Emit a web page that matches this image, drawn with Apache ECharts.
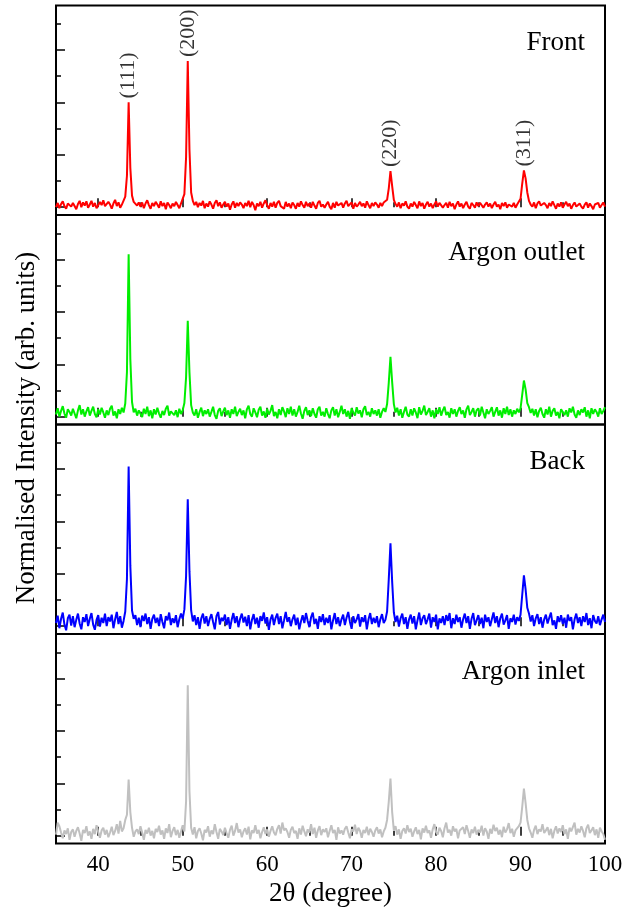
<!DOCTYPE html>
<html>
<head>
<meta charset="utf-8">
<script src="https://cdn.jsdelivr.net/npm/echarts@6/dist/echarts.min.js"></script>
<style>
html, body { margin: 0; padding: 0; background: #fff; }
#chart { width: 622px; height: 914px; }
</style>
</head>
<body>
<div id="chart"></div>
<script>
// scan 35-100 deg, step 0.2 deg; intensities normalised, 100 = one major tick
const scanStart = 35;
const scanStep = 0.2;

const front = [
  0,8,-2,6,11,2,-3,7,10,1,
  8,2,-4,6,12,0,9,3,11,-1,
  5,12,1,8,-2,-4,10,4,13,2,
  0,10,5,-3,7,14,2,9,-1,5,
  6,20,60,200,75,22,10,12,3,9,
  1,9,-2,7,13,4,-3,8,2,10,
  5,-1,11,2,8,-4,9,4,-2,7,
  2,10,4,-2,7,8,25,95,279,110,
  28,12,4,10,0,8,3,12,-2,7,
  1,11,5,-3,8,13,2,9,-1,5,
  10,1,7,-5,5,11,-1,8,2,9,
  5,-2,8,2,12,0,10,4,-6,7,
  2,10,-1,7,13,4,-3,8,1,10,
  -1,8,12,2,5,-3,10,1,7,-2,
  9,4,-3,8,1,11,4,-1,10,2,
  7,-1,10,3,-3,8,12,1,5,-1,
  5,10,1,-4,8,-1,10,3,1,8,
  -1,7,12,2,5,9,-3,8,1,5,
  10,2,7,-1,11,4,-2,8,2,9,
  5,-1,8,2,9,6,14,36,69,40,
  14,6,1,9,-2,7,3,11,1,-3,
  7,1,10,4,-2,11,2,8,-3,5,
  10,1,7,-2,5,11,1,8,9,-1,
  4,8,-1,10,2,7,-4,5,11,1,
  7,-2,5,10,1,-3,8,4,-1,9,
  2,8,11,-1,5,9,1,7,-2,5,
  10,1,5,-4,8,2,9,-1,5,7,
  1,8,-1,5,8,16,45,70,55,28,
  12,5,1,9,-2,7,11,3,1,8,
  4,-2,8,2,11,4,-3,7,1,9,
  -1,5,10,2,7,-3,4,9,1,-2,
  7,1,-3,5,9,-1,7,2,-4,5,
  2,8,-1,4,9,1
];

const argonOutlet = [
  4,16,0,11,20,6,-2,14,9,2,
  15,6,-3,12,22,4,14,0,10,18,
  2,11,19,5,-1,14,4,17,8,-2,
  12,3,15,21,2,10,-3,14,5,17,
  8,25,85,310,110,28,8,15,2,12,
  9,-1,15,5,19,1,12,-3,14,4,
  17,6,-2,11,3,15,21,2,10,13,
  3,12,-1,15,5,12,26,75,183,85,
  22,8,2,14,-2,9,17,1,12,5,
  14,0,9,19,3,-4,11,16,1,10,
  17,3,12,-2,14,5,19,1,9,15,
  3,12,-3,14,21,5,0,16,8,-1,
  13,19,2,10,-2,15,4,11,22,1,
  9,-3,14,3,18,10,-1,16,5,19,
  2,14,0,9,21,6,-4,11,18,3,
  12,1,16,5,-2,14,19,2,9,0,
  16,5,-3,12,18,2,14,-1,9,21,
  5,14,0,11,-4,16,8,2,18,6,
  12,-1,14,20,3,9,0,16,5,12,
  2,14,-2,9,16,9,24,65,114,66,
  24,8,17,2,14,-2,9,19,4,0,
  14,2,16,8,-3,18,4,11,21,3,
  9,16,0,12,-3,14,5,18,2,12,
  19,3,9,-2,16,5,14,0,11,18,
  5,12,-2,14,21,3,9,16,0,12,
  16,2,19,8,-3,14,5,11,18,0,
  9,18,2,12,-2,16,5,19,3,14,
  0,12,5,15,8,16,42,69,52,26,
  18,7,15,2,14,-1,11,17,5,-2,
  14,4,19,0,11,16,2,9,-3,14,
  17,3,12,0,16,8,19,4,-2,12,
  3,14,8,18,0,12,-3,16,5,14,
  9,0,16,5,11,18
];

const back = [
  6,20,-4,14,26,3,-8,15,22,1,
  19,-2,12,24,5,-6,17,8,23,0,
  14,25,3,-7,12,21,-1,16,6,24,
  0,17,9,22,-4,13,27,4,19,-3,
  10,28,90,305,115,30,14,21,2,16,
  -2,20,10,24,4,17,-5,14,22,6,
  16,0,23,8,-4,19,11,26,2,15,
  6,21,-2,13,24,14,32,95,242,105,
  30,9,21,2,17,-5,15,24,5,19,
  0,14,23,8,-6,19,27,3,16,10,
  22,2,17,-5,12,25,6,19,-2,14,
  24,7,18,0,21,-6,12,23,4,16,
  -3,19,10,26,5,17,-7,13,22,2,
  16,24,4,19,-4,11,27,8,17,0,
  13,22,2,16,-6,9,21,6,25,10,
  -2,17,26,4,14,-5,19,8,23,2,
  16,6,21,-6,11,25,4,17,0,13,
  22,2,16,27,8,-5,19,6,13,23,
  -1,17,8,21,-6,13,25,4,16,6,
  19,-2,13,23,6,12,28,90,158,85,
  26,8,20,-1,15,24,4,17,-5,13,
  22,5,19,-6,11,26,2,15,21,4,
  13,24,-3,17,8,22,-6,15,6,19,
  2,21,10,25,-4,15,4,22,8,17,
  -3,13,24,6,19,-5,14,25,2,11,
  21,4,16,-4,22,8,17,0,13,26,
  6,19,-2,15,24,3,11,21,-5,15,
  8,22,3,17,10,22,60,97,70,35,
  24,9,21,0,15,23,4,17,-3,13,
  22,5,16,26,2,11,-5,19,8,21,
  4,16,-3,22,10,17,-6,13,24,6,
  17,0,19,8,25,2,15,-4,21,10,
  5,19,2,13,22,8
];

const argonInlet = [
  2,25,18,6,-5,10,3,14,-8,7,
  12,-2,9,16,4,-10,11,5,18,0,
  8,-6,13,3,20,7,-4,10,15,2,
  11,-3,6,17,1,9,22,4,28,8,
  14,30,40,107,45,15,-2,8,12,3,
  18,6,-8,11,4,15,0,9,-5,13,
  7,19,2,10,-6,14,5,22,-3,9,
  16,1,11,-4,8,20,8,65,287,85,
  15,2,16,-5,9,14,4,-9,11,6,
  18,-2,10,3,22,7,-6,13,8,1,
  15,5,-4,11,19,0,9,24,6,12,
  -3,8,14,2,17,-7,10,5,20,4,
  11,-5,7,16,3,12,-2,9,18,6,
  1,13,20,4,25,10,14,7,-4,11,
  17,5,9,-6,14,2,19,8,-1,12,
  6,22,3,15,-4,10,18,1,12,7,
  14,-3,9,20,5,11,-8,16,4,10,
  2,13,18,6,-5,12,8,21,3,15,
  9,-4,11,5,17,1,13,7,-2,10,
  16,4,12,-3,8,15,30,65,109,45,
  10,18,2,12,-6,9,14,4,20,7,
  13,-2,8,16,3,11,-7,14,6,19,
  5,10,-4,12,22,7,2,15,9,-3,
  14,25,6,11,0,18,8,13,-5,10,
  7,16,3,20,9,-4,12,5,17,2,
  11,6,19,0,14,8,-6,13,4,21,
  9,15,2,11,-3,17,6,12,24,5,
  13,-2,10,7,18,25,55,90,62,30,
  14,6,-4,11,19,3,12,8,22,5,
  10,16,1,13,-5,9,18,4,14,7,
  20,3,12,-6,15,8,11,25,2,13,
  6,18,9,-3,14,21,5,10,16,1,
  12,-4,15,8,3,-8
];

const panelNames = ['Front', 'Argon outlet', 'Back', 'Argon inlet'];
const panelColors = ['#ff0000', '#00ee00', '#0000ff', '#c0c0c0'];
const panelData = [front, argonOutlet, back, argonInlet];

const xMajorTicks = [40, 50, 60, 70, 80, 90, 100];
const xMinorTicks = [45, 55, 65, 75, 85, 95];
const yMajorTicks = [0, 100, 200, 300];
const yMinorTicks = [50, 150, 250, 350];

const millerLabels = ['(111)', '(200)', '(220)', '(311)'];
const millerPos = [43.6, 50.6, 74.6, 90.4];

const twoTheta = front.map((_, i) => +(scanStart + i * scanStep).toFixed(1));

const serif = "'Liberation Serif', 'Times New Roman', serif";
const gridTops = [5.5, 215, 424.5, 634];
const gridH = 209.5;

var chart = echarts.init(document.getElementById('chart'), null, { width: 622, height: 914 });

var grid = [], xAxis = [], yAxis = [], series = [], title = [];

function tickAxis(kind, g, values, len) {
  return {
    type: 'value', gridIndex: g,
    position: kind === 'x' ? 'bottom' : 'left',
    min: kind === 'x' ? 35 : -15, max: kind === 'x' ? 100 : 385,
    axisLine: { show: false }, splitLine: { show: false }, axisLabel: { show: false },
    axisTick: { inside: true, length: len, customValues: values,
      lineStyle: { color: '#000', width: 1.5 } }
  };
}

gridTops.forEach(function (top, g) {
  grid.push({ left: 56, width: 549, top: top, height: gridH, show: true,
    outerBoundsMode: 'none', containLabel: false,
    borderColor: '#000', borderWidth: 2, backgroundColor: 'transparent' });

  var last = g === gridTops.length - 1;
  var xMajor = tickAxis('x', g, xMajorTicks, 9);
  xMajor.axisLabel = { show: last, customValues: xMajorTicks, margin: 10, color: '#000',
    fontFamily: serif, fontSize: 23 };
  if (last) {
    xMajor.name = '2θ (degree)';
    xMajor.nameLocation = 'middle';
    xMajor.nameGap = 37;
    xMajor.nameTextStyle = { fontFamily: serif, fontSize: 27, color: '#000' };
  }
  xAxis.push(xMajor, tickAxis('x', g, xMinorTicks, 5));
  yAxis.push(tickAxis('y', g, yMajorTicks, 9), tickAxis('y', g, yMinorTicks, 5));

  series.push({
    type: 'line', xAxisIndex: 2 * g, yAxisIndex: 2 * g,
    data: twoTheta.map(function (x, i) { return [x, panelData[g][i]]; }),
    showSymbol: false, silent: true, animation: false,
    lineStyle: { color: panelColors[g], width: 2 }
  });

  title.push({
    text: panelNames[g], right: 37, top: top + 24, padding: 0,
    textStyle: { fontFamily: serif, fontSize: 27, fontWeight: 'normal', color: '#000' }
  });
});

// Miller indices over the Front peaks
series.push({
  type: 'scatter', xAxisIndex: 0, yAxisIndex: 0, symbolSize: 0, silent: true, animation: false,
  data: millerPos.map(function (p, k) {
    var idx = Math.round((p - scanStart) / scanStep);
    return { value: [p, front[idx]], label: { formatter: millerLabels[k] } };
  }),
  label: { show: true, position: 'top', distance: 4, rotate: 90, align: 'left',
    verticalAlign: 'middle', fontFamily: serif, fontSize: 22, color: '#000' }
});

chart.setOption({
  animation: false,
  title: title,
  grid: grid,
  xAxis: xAxis,
  yAxis: yAxis,
  series: series,
  graphic: [{
    type: 'text', x: 27, y: 428, rotation: Math.PI / 2,
    style: { text: 'Normalised Intensity (arb. units)', font: '27px ' + serif,
      fill: '#000', align: 'center', verticalAlign: 'middle' }
  }]
});
</script>
</body>
</html>
